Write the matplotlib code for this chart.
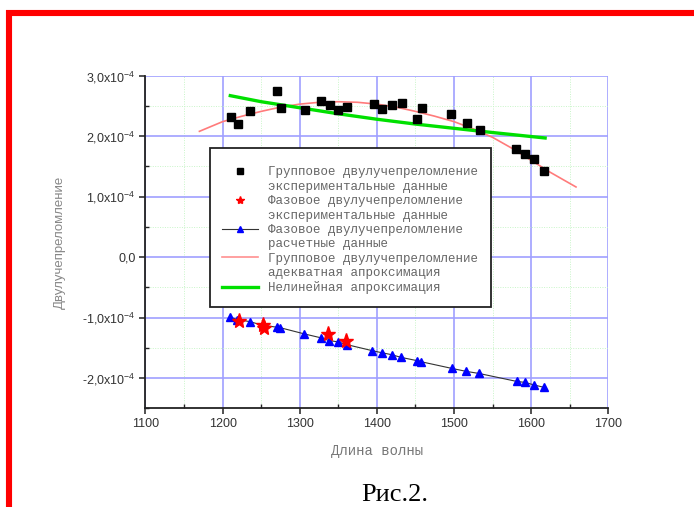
import matplotlib
matplotlib.use("Agg")
import matplotlib.pyplot as plt
from matplotlib.lines import Line2D
from matplotlib.ticker import MultipleLocator, FixedLocator, FixedFormatter

# ---- data ----
wl_group = [1211, 1220, 1235, 1270, 1276, 1307, 1327, 1339, 1350, 1361,
            1396, 1407, 1419, 1432, 1452, 1458, 1496, 1517, 1534, 1580,
            1592, 1603, 1616]
group_exp = [2.32, 2.20, 2.42, 2.74, 2.47, 2.43, 2.58, 2.52, 2.44, 2.48,
             2.54, 2.45, 2.51, 2.55, 2.28, 2.46, 2.36, 2.22, 2.10, 1.79,
             1.70, 1.62, 1.43]  # x1e-4

wl_phase_calc = [1210, 1219, 1235, 1252, 1271, 1274, 1306, 1328, 1338, 1349,
                 1361, 1394, 1406, 1419, 1431, 1452, 1457, 1497, 1516, 1532,
                 1581, 1592, 1604, 1617]
phase_calc = [-0.995, -1.033, -1.066, -1.127, -1.16, -1.165, -1.27, -1.336,
              -1.38, -1.40, -1.447, -1.547, -1.58, -1.613, -1.657, -1.712,
              -1.729, -1.84, -1.89, -1.923, -2.055, -2.072, -2.115, -2.155]

wl_phase_exp = [1221, 1252, 1254, 1336, 1360]
phase_exp = [-1.06, -1.13, -1.17, -1.27, -1.38]

wl_fit = [1170, 1185, 1200, 1225, 1250, 1275, 1300, 1325, 1350, 1375, 1400,
          1425, 1450, 1475, 1500, 1525, 1550, 1575, 1600, 1625, 1658]
group_fit = [2.08, 2.16, 2.24, 2.33, 2.41, 2.48, 2.53, 2.56, 2.57, 2.56, 2.53,
             2.48, 2.41, 2.33, 2.24, 2.12, 1.98, 1.80, 1.60, 1.40, 1.16]

wl_nonlin = [1210, 1250, 1300, 1350, 1400, 1450, 1500, 1550, 1618]
nonlin_fit = [2.67, 2.57, 2.47, 2.37, 2.28, 2.20, 2.13, 2.06, 1.97]

ytick_vals = [-2.0, -1.0, 0.0, 1.0, 2.0, 3.0]
ytick_labels = ['-2,0x10$^{-4}$', '-1,0x10$^{-4}$', '0,0',
                '1,0x10$^{-4}$', '2,0x10$^{-4}$', '3,0x10$^{-4}$']

legend_lines = ["Групповое двулучепреломление", "экспериментальные данные",
                "Фазовое двулучепреломление", "экспериментальные данные",
                "Фазовое двулучепреломление", "расчетные данные",
                "Групповое двулучепреломление", "адекватная апроксимация",
                "Нелинейная апроксимация"]

scale = 1e-4

plt.rcParams['font.family'] = ['Liberation Sans', 'DejaVu Sans']
plt.rcParams['mathtext.fontset'] = 'custom'
plt.rcParams['mathtext.rm'] = 'Liberation Sans'
plt.rcParams['mathtext.it'] = 'Liberation Sans'
plt.rcParams['axes.unicode_minus'] = False

fig = plt.figure(figsize=(6.94, 5.07), dpi=100)
ax = fig.add_axes([145.4/694, 1-408.3/507, (608.4-145.4)/694, (408.3-75.7)/507])

# grid
ax.xaxis.set_major_locator(MultipleLocator(100))
ax.xaxis.set_minor_locator(MultipleLocator(50))
ax.yaxis.set_major_locator(FixedLocator([v*scale for v in ytick_vals]))
ax.yaxis.set_major_formatter(FixedFormatter(ytick_labels))
ax.yaxis.set_minor_locator(MultipleLocator(0.5*scale))
ax.grid(which='major', color='#a0a0ff', lw=1.2, zorder=0)
ax.grid(which='minor', color='#c8f5c8', lw=0.7, ls=(0, (1, 1.5)), zorder=0)
ax.set_axisbelow(True)

l_fit, = ax.plot(wl_fit, [v*scale for v in group_fit], color='#ff7b7b', lw=1.2, zorder=2)
l_nl, = ax.plot(wl_nonlin, [v*scale for v in nonlin_fit], color='#00e000', lw=2.4, zorder=3)
l_sq, = ax.plot(wl_group, [v*scale for v in group_exp], ls='none', marker='s', ms=5.2,
                color='black', zorder=4)
l_tri, = ax.plot(wl_phase_calc, [v*scale for v in phase_calc], color='#333333', lw=0.8,
                 marker='^', ms=6, mfc='#0000ff', mec='#0000ff', zorder=4)
l_star, = ax.plot(wl_phase_exp, [v*scale for v in phase_exp], ls='none', marker='*', ms=11,
                  mfc='#ff0000', mec='#ff0000', zorder=5)

ax.set_xlim(1100, 1700)
ax.set_ylim(-2.5*scale, 3.0*scale)

for s in ['top', 'right']:
    ax.spines[s].set_visible(False)
for s in ['left', 'bottom']:
    ax.spines[s].set_linewidth(1.3)
    ax.spines[s].set_color('#222222')

ax.tick_params(which='major', direction='out', length=4, width=1.1, labelsize=9,
               labelcolor='#333333', color='#222222', pad=3)
ax.tick_params(which='minor', direction='in', length=3, width=1.0, color='#222222')

ax.set_xlabel('Длина волны', family='Liberation Mono', fontsize=10, color='#777777',
              labelpad=10)
ax.set_ylabel('Двулучепреломление', fontsize=9.5, color='#888888', labelpad=12)

# legend (one row per text line, handle on the first line of each entry)
h_sq = Line2D([], [], ls='none', marker='s', ms=4, color='black')
h_star = Line2D([], [], ls='none', marker='*', ms=6, mfc='#ff0000', mec='#ff0000')
h_tri = Line2D([], [], color='#333333', lw=0.8, marker='^', ms=5, mfc='#0000ff', mec='#0000ff')
h_fit = Line2D([], [], color='#ff9090', lw=1.2)
h_nl = Line2D([], [], color='#00e000', lw=2.4)
h_blank = Line2D([], [], ls='none', color='none')
handles = [h_sq, h_blank, h_star, h_blank, h_tri, h_blank, h_fit, h_blank, h_nl]
leg = ax.legend(handles, legend_lines,
                loc='upper left', bbox_to_anchor=(210/694, 1-147.5/507),
                bbox_transform=fig.transFigure, borderaxespad=0,
                prop={'family': 'Liberation Mono', 'size': 9},
                title=' ', title_fontsize=2,
                labelcolor='#666666', frameon=True, fancybox=False,
                edgecolor='#222222', framealpha=1, handlelength=2.8,
                handletextpad=0.86, labelspacing=0.19, borderpad=1.0)
leg.get_frame().set_linewidth(1.3)
leg.set_zorder(10)

# caption
fig.text(395/694, 1-501/507, 'Рис.2.', family='Liberation Serif', fontsize=19,
         ha='center', va='baseline', color='black')

# red frame
fig.add_artist(Line2D([9/694, 9/694], [0, 1-10/507], transform=fig.transFigure,
                      color='#ff0000', lw=4.4, solid_capstyle='butt'))
fig.add_artist(Line2D([6/694, 1], [1-13/507, 1-13/507], transform=fig.transFigure,
                      color='#ff0000', lw=4.4, solid_capstyle='butt'))

fig.savefig('out.png', dpi=100)
